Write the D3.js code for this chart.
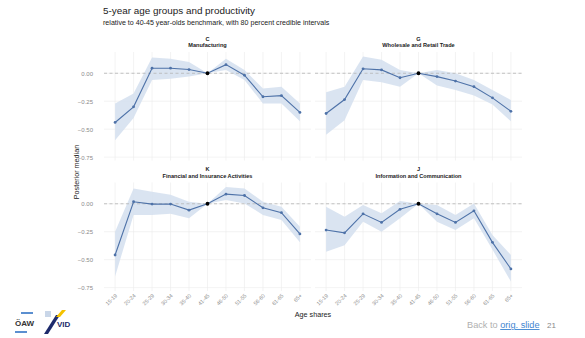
<!DOCTYPE html>
<html>
<head>
<meta charset="utf-8">
<script src="https://cdn.jsdelivr.net/npm/d3@7"></script>
<style>
  html, body { margin: 0; padding: 0; background: #fff; }
  svg { display: block; }
  text { font-family: "Liberation Sans", Arial, sans-serif; }
</style>
</head>
<body>
<svg id="chart" width="585" height="338"></svg>
<script>
// Age groups on the x axis
const ageGroups = ["15-19", "20-24", "25-29", "30-34", "35-40", "41-45", "46-50", "51-55", "56-60", "61-65", "65+"];
const benchmarkGroup = "41-45";

// Panel codes and titles
const sectorCodes = ["C", "G", "K", "J"];
const sectorNames = ["Manufacturing", "Wholesale and Retail Trade", "Financial and Insurance Activities", "Information and Communication"];

// Posterior medians, one array per sector
const medianC = [-0.44, -0.30, 0.045, 0.045, 0.033, 0, 0.077, -0.018, -0.21, -0.20, -0.35];
const medianG = [-0.36, -0.235, 0.04, 0.03, -0.04, 0, -0.03, -0.07, -0.12, -0.22, -0.34];
const medianK = [-0.458, 0.018, -0.003, -0.003, -0.057, 0, 0.086, 0.074, -0.036, -0.08, -0.27];
const medianJ = [-0.235, -0.26, -0.09, -0.167, -0.05, 0, -0.09, -0.167, -0.063, -0.345, -0.583];

// 80 percent credible interval bounds
const lowerC = [-0.60, -0.40, -0.06, -0.05, -0.03, 0, 0.03, -0.06, -0.27, -0.27, -0.43];
const upperC = [-0.27, -0.18, 0.14, 0.13, 0.10, 0, 0.13, 0.03, -0.137, -0.12, -0.27];
const lowerG = [-0.55, -0.42, -0.06, -0.08, -0.12, 0, -0.11, -0.15, -0.20, -0.28, -0.43];
const upperG = [-0.17, -0.12, 0.15, 0.12, 0.03, 0, 0.03, 0.0, -0.06, -0.15, -0.24];
const lowerK = [-0.65, -0.10, -0.10, -0.09, -0.13, 0, 0.033, 0.003, -0.10, -0.146, -0.345];
const upperK = [-0.25, 0.137, 0.107, 0.08, 0.018, 0, 0.15, 0.137, 0.018, -0.027, -0.205];
const lowerJ = [-0.43, -0.37, -0.16, -0.25, -0.13, 0, -0.16, -0.235, -0.13, -0.41, -0.696];
const upperJ = [-0.027, -0.116, -0.012, -0.086, 0.024, 0, -0.012, -0.10, 0.003, -0.28, -0.458];

const yTicks = [0, -0.25, -0.5, -0.75];

const medians = [medianC, medianG, medianK, medianJ];
const lowers = [lowerC, lowerG, lowerK, lowerJ];
const uppers = [upperC, upperG, upperK, upperJ];

const svg = d3.select("#chart");

// Titles
svg.append("text").attr("x", 103).attr("y", 13.5)
  .attr("font-size", 9.9).attr("fill", "#222")
  .text("5-year age groups and productivity");
svg.append("text").attr("x", 103).attr("y", 25)
  .attr("font-size", 7.1).attr("fill", "#222")
  .text("relative to 40-45 year-olds benchmark, with 80 percent credible intervals");

// Facet grid geometry
const cols = [[104, 311], [315, 522]];
const rows = [[52, 160.5], [182.5, 291]];
const yDomain = [-0.78, 0.19];

const lineColor = "#4e72a8";
const ribbonColor = "#d3dfef";

sectorCodes.forEach((code, i) => {
  const col = cols[i % 2], row = rows[Math.floor(i / 2)];
  const x = d3.scalePoint().domain(ageGroups).range(col).padding(0.6);
  const y = d3.scaleLinear().domain(yDomain).range([row[1], row[0]]);
  const g = svg.append("g");

  // Grid lines
  g.append("g").selectAll("line").data(ageGroups).join("line")
    .attr("x1", d => x(d)).attr("x2", d => x(d))
    .attr("y1", row[0]).attr("y2", row[1])
    .attr("stroke", "#ebebeb").attr("stroke-width", 0.6);
  g.append("g").selectAll("line").data(yTicks).join("line")
    .attr("x1", col[0]).attr("x2", col[1])
    .attr("y1", d => y(d)).attr("y2", d => y(d))
    .attr("stroke", "#ebebeb").attr("stroke-width", 0.6);

  // Strip labels
  const cx = (col[0] + col[1]) / 2;
  g.append("text").attr("x", cx).attr("y", row[0] - 11.5)
    .attr("text-anchor", "middle").attr("font-size", 5.6).attr("font-weight", "bold").attr("fill", "#222")
    .text(code);
  g.append("text").attr("x", cx).attr("y", row[0] - 5)
    .attr("text-anchor", "middle").attr("font-size", 5.6).attr("font-weight", "bold").attr("fill", "#222")
    .text(sectorNames[i]);

  // Y axis labels on the left column
  if (i % 2 === 0) {
    const ya = d3.axisLeft(y).tickValues(yTicks).tickFormat(d3.format(".2f")).tickSize(0).tickPadding(11);
    const ag = g.append("g").attr("transform", `translate(${col[0]},0)`).call(ya);
    ag.select(".domain").remove();
    ag.selectAll("text").attr("font-size", 6).attr("fill", "#8a8a8a")
      .attr("font-family", "Liberation Sans, Arial, sans-serif");
  }

  // X axis labels on the bottom row
  if (i >= 2) {
    const xa = d3.axisBottom(x).tickSize(0).tickPadding(0);
    const ag = g.append("g").attr("transform", `translate(0,${row[1]})`).call(xa);
    ag.select(".domain").remove();
    ag.selectAll("text")
      .attr("font-size", 5.4).attr("fill", "#8a8a8a")
      .attr("font-family", "Liberation Sans, Arial, sans-serif")
      .attr("text-anchor", "end")
      .attr("dy", null)
      .attr("transform", "translate(2,5) rotate(-45)");
  }

  const pts = ageGroups.map((a, k) => ({ a, m: medians[i][k], lo: lowers[i][k], hi: uppers[i][k] }));

  // Credible interval ribbon
  g.append("path").datum(pts)
    .attr("d", d3.area().x(d => x(d.a)).y0(d => y(d.lo)).y1(d => y(d.hi)))
    .attr("fill", ribbonColor).attr("fill-opacity", 0.85);

  // Zero reference line
  g.append("line").attr("x1", col[0]).attr("x2", col[1])
    .attr("y1", y(0)).attr("y2", y(0))
    .attr("stroke", "#b5b5b5").attr("stroke-width", 0.8).attr("stroke-dasharray", "3,2.5");

  // Median line and points
  g.append("path").datum(pts)
    .attr("d", d3.line().x(d => x(d.a)).y(d => y(d.m)))
    .attr("fill", "none").attr("stroke", lineColor).attr("stroke-width", 1.1);
  g.append("g").selectAll("circle").data(pts).join("circle")
    .attr("cx", d => x(d.a)).attr("cy", d => y(d.m))
    .attr("r", d => d.a === benchmarkGroup ? 1.9 : 1.4)
    .attr("fill", d => d.a === benchmarkGroup ? "#000" : lineColor);
});

// Axis titles
svg.append("text").attr("x", 313).attr("y", 317)
  .attr("text-anchor", "middle").attr("font-size", 7.2).attr("fill", "#222")
  .text("Age shares");
svg.append("text")
  .attr("transform", "translate(79,172) rotate(-90)")
  .attr("text-anchor", "middle").attr("font-size", 7.2).attr("fill", "#222")
  .text("Posterior median");

// Footer: logos
const logo = svg.append("g");
logo.append("rect").attr("x", 21).attr("y", 312).attr("width", 12).attr("height", 2).attr("fill", "#5b8fd0");
logo.append("rect").attr("x", 15).attr("y", 331).attr("width", 12).attr("height", 2).attr("fill", "#5b8fd0");
logo.append("text").attr("x", 15).attr("y", 326).attr("font-size", 8).attr("fill", "#333")
  .attr("font-weight", "bold").text("ÖAW");
logo.append("rect").attr("x", 45).attr("y", 311).attr("width", 6).attr("height", 6).attr("fill", "#c9d6e8");
logo.append("path").attr("d", "M44,334 L48,334 L60,315 L56,315 Z").attr("fill", "#1d2a6b");
logo.append("path").attr("d", "M56,317 L62,310 L66,310 L60,317 Z").attr("fill", "#f5c200");
logo.append("text").attr("x", 57).attr("y", 327).attr("font-size", 8).attr("font-weight", "bold")
  .attr("fill", "#1d2a6b").text("VID");

// Footer: slide navigation
const nav = svg.append("text").attr("x", 467).attr("y", 328).attr("font-size", 9.2)
  .attr("font-family", "Lato, 'Open Sans', sans-serif");
nav.append("tspan").attr("fill", "#b0b0b0").text("Back to ");
nav.append("tspan").attr("fill", "#3f86d1").attr("text-decoration", "underline").text("orig. slide");
svg.append("text").attr("x", 547).attr("y", 328).attr("font-size", 8).attr("fill", "#888")
  .attr("font-family", "Lato, 'Open Sans', sans-serif").text("21");
</script>
</body>
</html>
